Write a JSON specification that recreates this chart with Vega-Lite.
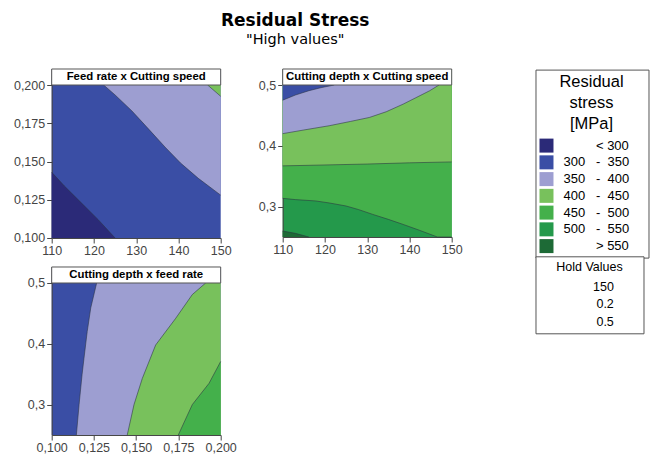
{
  "$schema": "https://vega.github.io/schema/vega-lite/v6.json",
  "background": "white",
  "padding": {"left": 12.7, "top": 12, "right": 4, "bottom": 4},
  "title": {
    "text": "Residual Stress",
    "subtitle": "\"High values\"",
    "font": "DejaVu Sans", "fontSize": 17, "fontWeight": "bold", "color": "#000",
    "subtitleFont": "DejaVu Sans", "subtitleFontSize": 14.5, "subtitleColor": "#000", "subtitlePadding": 3,
    "anchor": "middle", "dx": -36, "offset": 21
  },
  "datasets": {
    "p1": [
      {"k": "a", "band": "< 300", "x": 110, "y": 0.143},
      {"k": "a", "band": "< 300", "x": 113, "y": 0.134},
      {"k": "a", "band": "< 300", "x": 117, "y": 0.123},
      {"k": "a", "band": "< 300", "x": 121, "y": 0.112},
      {"k": "a", "band": "< 300", "x": 125, "y": 0.1},
      {"k": "b", "band": "350 - 400", "x": 122.3, "y": 0.2},
      {"k": "b", "band": "350 - 400", "x": 125, "y": 0.1935},
      {"k": "b", "band": "350 - 400", "x": 129, "y": 0.183},
      {"k": "b", "band": "350 - 400", "x": 133, "y": 0.171},
      {"k": "b", "band": "350 - 400", "x": 136.8, "y": 0.1595},
      {"k": "b", "band": "350 - 400", "x": 140.5, "y": 0.149},
      {"k": "b", "band": "350 - 400", "x": 144.7, "y": 0.139},
      {"k": "b", "band": "350 - 400", "x": 150, "y": 0.128},
      {"k": "c", "band": "400 - 450", "x": 146.9, "y": 0.2},
      {"k": "c", "band": "400 - 450", "x": 150, "y": 0.1926}
    ],
    "p2": [
      {"k": "a", "band": "450 - 500", "x": 110, "y": 0.3136},
      {"k": "a", "band": "450 - 500", "x": 113, "y": 0.3115},
      {"k": "a", "band": "450 - 500", "x": 117.8, "y": 0.3093},
      {"k": "a", "band": "450 - 500", "x": 121, "y": 0.306},
      {"k": "a", "band": "450 - 500", "x": 125, "y": 0.301},
      {"k": "a", "band": "450 - 500", "x": 128, "y": 0.295},
      {"k": "a", "band": "450 - 500", "x": 131.3, "y": 0.2872},
      {"k": "a", "band": "450 - 500", "x": 135, "y": 0.279},
      {"k": "a", "band": "450 - 500", "x": 138.5, "y": 0.2707},
      {"k": "a", "band": "450 - 500", "x": 142, "y": 0.262},
      {"k": "a", "band": "450 - 500", "x": 146, "y": 0.2516},
      {"k": "a", "band": "450 - 500", "x": 146.6, "y": 0.25},
      {"k": "a", "band": "450 - 500", "x": 150, "y": 0.25},
      {"k": "b", "band": "400 - 450", "x": 110, "y": 0.367},
      {"k": "b", "band": "400 - 450", "x": 120, "y": 0.3685},
      {"k": "b", "band": "400 - 450", "x": 130, "y": 0.37},
      {"k": "b", "band": "400 - 450", "x": 140, "y": 0.372},
      {"k": "b", "band": "400 - 450", "x": 150, "y": 0.3735},
      {"k": "c", "band": "350 - 400", "x": 110, "y": 0.42},
      {"k": "c", "band": "350 - 400", "x": 115, "y": 0.426},
      {"k": "c", "band": "350 - 400", "x": 121, "y": 0.433},
      {"k": "c", "band": "350 - 400", "x": 126, "y": 0.44},
      {"k": "c", "band": "350 - 400", "x": 130.5, "y": 0.4466},
      {"k": "c", "band": "350 - 400", "x": 134.5, "y": 0.456},
      {"k": "c", "band": "350 - 400", "x": 138.5, "y": 0.4685},
      {"k": "c", "band": "350 - 400", "x": 141.5, "y": 0.479},
      {"k": "c", "band": "350 - 400", "x": 144.8, "y": 0.4906},
      {"k": "c", "band": "350 - 400", "x": 147, "y": 0.5},
      {"k": "d", "band": "300 - 350", "x": 110, "y": 0.475},
      {"k": "d", "band": "300 - 350", "x": 113, "y": 0.4835},
      {"k": "d", "band": "300 - 350", "x": 116.2, "y": 0.4906},
      {"k": "d", "band": "300 - 350", "x": 119, "y": 0.4955},
      {"k": "d", "band": "300 - 350", "x": 122.2, "y": 0.5},
      {"k": "e", "band": "> 550", "x": 110, "y": 0.2598},
      {"k": "e", "band": "> 550", "x": 113, "y": 0.256},
      {"k": "e", "band": "> 550", "x": 116.2, "y": 0.25}
    ],
    "p3": [
      {"k": "a", "band": "350 - 400", "y": 0.25, "x": 0.1146},
      {"k": "a", "band": "350 - 400", "y": 0.3, "x": 0.1162},
      {"k": "a", "band": "350 - 400", "y": 0.35, "x": 0.118},
      {"k": "a", "band": "350 - 400", "y": 0.376, "x": 0.1191},
      {"k": "a", "band": "350 - 400", "y": 0.42, "x": 0.121},
      {"k": "a", "band": "350 - 400", "y": 0.459, "x": 0.1231},
      {"k": "a", "band": "350 - 400", "y": 0.5, "x": 0.1266},
      {"k": "b", "band": "400 - 450", "y": 0.25, "x": 0.1447},
      {"k": "b", "band": "400 - 450", "y": 0.3, "x": 0.1487},
      {"k": "b", "band": "400 - 450", "y": 0.343, "x": 0.1536},
      {"k": "b", "band": "400 - 450", "y": 0.398, "x": 0.1615},
      {"k": "b", "band": "400 - 450", "y": 0.442, "x": 0.1734},
      {"k": "b", "band": "400 - 450", "y": 0.481, "x": 0.1832},
      {"k": "b", "band": "400 - 450", "y": 0.5, "x": 0.1911},
      {"k": "c", "band": "450 - 500", "y": 0.25, "x": 0.1749},
      {"k": "c", "band": "450 - 500", "y": 0.3, "x": 0.1832},
      {"k": "c", "band": "450 - 500", "y": 0.335, "x": 0.1931},
      {"k": "c", "band": "450 - 500", "y": 0.371, "x": 0.2}
    ],
    "titles": [
      {"p": 1, "t": "Feed rate x Cutting speed"},
      {"p": 2, "t": "Cutting depth x Cutting speed"},
      {"p": 3, "t": "Cutting depth x feed rate"}
    ],
    "hold": [
      {"h": "150"},
      {"h": "0.2"},
      {"h": "0.5"}
    ]
  },
  "config": {
    "view": {"stroke": null},
    "axis": {
      "labelFont": "Liberation Sans", "labelFontSize": 12.5, "labelColor": "#444",
      "tickColor": "#444", "domainColor": "#444", "tickSize": 5, "labelPadding": 2,
      "labelFlush": false, "labelOverlap": false,
      "grid": false, "title": null
    },
    "legend": {
      "strokeColor": "#555", "fillColor": "white", "cornerRadius": 0,
      "titleFont": "Liberation Sans", "titleFontWeight": "normal", "titleColor": "#000",
      "labelFont": "Liberation Sans", "labelColor": "#000", "labelLimit": 300
    }
  },
  "columns": 2,
  "spacing": {"row": 29, "column": 62},
  "bounds": "flush",
  "concat": [
    {
      "width": 169, "height": 169,
      "view": {"fill": "#3a4ea5", "stroke": null},
      "layer": [
        {"data": {"name": "p1"}, "transform": [{"filter": "datum.k == 'a'"}], "mark": {"type": "area", "opacity": 1}, "encoding": {
          "x": {"field": "x", "type": "quantitative", "scale": {"domain": [110, 150], "nice": false, "zero": false}, "axis": {"values": [110, 120, 130, 140, 150], "format": "d"}},
          "y": {"field": "y", "type": "quantitative", "scale": {"domain": [0.1, 0.210458], "nice": false, "zero": false}, "axis": {"values": [0.1, 0.125, 0.15, 0.175, 0.2], "labelExpr": "replace(format(datum.value, '.3f'), '.', ',')"}},
          "y2": {"datum": 0.1}, "color": {"field": "band", "type": "nominal", "scale": {"domain": ["< 300", "300 - 350", "350 - 400", "400 - 450", "450 - 500", "500 - 550", "> 550"], "range": ["#2b2a78", "#3a4ea5", "#9d9ed1", "#78c15c", "#44b04b", "#24994b", "#1d6a36"]}, "legend": {"orient": "none", "legendX": 483.8, "legendY": 0.6, "title": ["Residual", "stress", "[MPa]"], "titleFontSize": 16.5, "titleLineHeight": 21, "titleAnchor": "middle", "titleAlign": "center", "titlePadding": 6.5, "labelFontSize": 13, "labelOffset": 10, "symbolType": "square", "symbolSize": 196, "symbolStrokeWidth": 0, "rowPadding": 2.75, "padding": 4, "labelExpr": "length(datum.label) < 6 ? '\u200b\u00a0\u00a0\u00a0\u00a0\u00a0\u00a0\u00a0\u00a0\u00a0' + substring(datum.label, 0, 1) + '\u00a0' + substring(datum.label, 2) + '\u00a0\u00a0\u00a0\u00a0\u200b' : substring(datum.label, 0, 3) + '\u00a0\u00a0\u00a0-\u00a0\u00a0' + substring(datum.label, 6) + '\u00a0\u00a0\u00a0\u00a0\u200b'"}}}},
        {"data": {"name": "p1"}, "transform": [{"filter": "datum.k == 'b'"}], "mark": {"type": "area", "opacity": 1}, "encoding": {"x": {"field": "x", "type": "quantitative"}, "y": {"field": "y", "type": "quantitative"}, "y2": {"datum": 0.2}, "color": {"field": "band", "type": "nominal"}}},
        {"data": {"name": "p1"}, "transform": [{"filter": "datum.k == 'c'"}], "mark": {"type": "area", "opacity": 1}, "encoding": {"x": {"field": "x", "type": "quantitative"}, "y": {"field": "y", "type": "quantitative"}, "y2": {"datum": 0.2}, "color": {"field": "band", "type": "nominal"}}},
        {"data": {"name": "p1"}, "mark": {"type": "line", "color": "#2a3340", "strokeWidth": 0.8, "opacity": 0.7}, "encoding": {"x": {"field": "x", "type": "quantitative"}, "y": {"field": "y", "type": "quantitative"}, "detail": {"field": "k"}}},
        {"data": {"name": "titles"}, "transform": [{"filter": "datum.p == 1"}], "mark": {"type": "rect", "fill": "white", "stroke": "#555", "strokeWidth": 1}, "encoding": {"x": {"datum": 110, "type": "quantitative"}, "x2": {"datum": 150}, "y": {"datum": 0.2, "type": "quantitative"}, "y2": {"datum": 0.210458}}},
        {"data": {"name": "titles"}, "transform": [{"filter": "datum.p == 1"}], "mark": {"type": "text", "font": "Liberation Sans", "fontWeight": "bold", "fontSize": 11.4, "baseline": "middle", "align": "center", "color": "#000"}, "encoding": {"x": {"datum": 130, "type": "quantitative"}, "y": {"datum": 0.205229, "type": "quantitative"}, "text": {"field": "t", "type": "nominal"}}}
      ]
    },
    {
      "width": 169, "height": 168,
      "view": {"fill": "#24994b", "stroke": null},
      "layer": [
        {"data": {"name": "p2"}, "transform": [{"filter": "datum.k == 'a'"}], "mark": {"type": "area", "opacity": 1}, "encoding": {
          "x": {"field": "x", "type": "quantitative", "scale": {"domain": [110, 150], "nice": false, "zero": false}, "axis": {"values": [110, 120, 130, 140, 150], "format": "d"}},
          "y": {"field": "y", "type": "quantitative", "scale": {"domain": [0.25, 0.526316], "nice": false, "zero": false}, "axis": {"values": [0.3, 0.4, 0.5], "labelExpr": "replace(format(datum.value, '.1f'), '.', ',')"}},
          "y2": {"datum": 0.5}, "color": {"field": "band", "type": "nominal"}}},
        {"data": {"name": "p2"}, "transform": [{"filter": "datum.k == 'b'"}], "mark": {"type": "area", "opacity": 1}, "encoding": {"x": {"field": "x", "type": "quantitative"}, "y": {"field": "y", "type": "quantitative"}, "y2": {"datum": 0.5}, "color": {"field": "band", "type": "nominal"}}},
        {"data": {"name": "p2"}, "transform": [{"filter": "datum.k == 'c'"}], "mark": {"type": "area", "opacity": 1}, "encoding": {"x": {"field": "x", "type": "quantitative"}, "y": {"field": "y", "type": "quantitative"}, "y2": {"datum": 0.5}, "color": {"field": "band", "type": "nominal"}}},
        {"data": {"name": "p2"}, "transform": [{"filter": "datum.k == 'd'"}], "mark": {"type": "area", "opacity": 1}, "encoding": {"x": {"field": "x", "type": "quantitative"}, "y": {"field": "y", "type": "quantitative"}, "y2": {"datum": 0.5}, "color": {"field": "band", "type": "nominal"}}},
        {"data": {"name": "p2"}, "transform": [{"filter": "datum.k == 'e'"}], "mark": {"type": "area", "opacity": 1}, "encoding": {"x": {"field": "x", "type": "quantitative"}, "y": {"field": "y", "type": "quantitative"}, "y2": {"datum": 0.25}, "color": {"field": "band", "type": "nominal"}}},
        {"data": {"name": "p2"}, "mark": {"type": "line", "color": "#2a3340", "strokeWidth": 0.8, "opacity": 0.7}, "encoding": {"x": {"field": "x", "type": "quantitative"}, "y": {"field": "y", "type": "quantitative"}, "detail": {"field": "k"}}},
        {"data": {"name": "titles"}, "transform": [{"filter": "datum.p == 2"}], "mark": {"type": "rect", "fill": "white", "stroke": "#555", "strokeWidth": 1}, "encoding": {"x": {"datum": 110, "type": "quantitative"}, "x2": {"datum": 150}, "y": {"datum": 0.5, "type": "quantitative"}, "y2": {"datum": 0.526316}}},
        {"data": {"name": "titles"}, "transform": [{"filter": "datum.p == 2"}], "mark": {"type": "text", "font": "Liberation Sans", "fontWeight": "bold", "fontSize": 11.4, "baseline": "middle", "align": "center", "color": "#000"}, "encoding": {"x": {"datum": 130, "type": "quantitative"}, "y": {"datum": 0.513158, "type": "quantitative"}, "text": {"field": "t", "type": "nominal"}}}
      ]
    },
    {
      "width": 169, "height": 168,
      "view": {"fill": "#3a4ea5", "stroke": null},
      "layer": [
        {"data": {"name": "p3"}, "transform": [{"filter": "datum.k == 'a'"}], "mark": {"type": "area", "orient": "horizontal", "opacity": 1}, "encoding": {
          "x": {"field": "x", "type": "quantitative", "scale": {"domain": [0.1, 0.2], "nice": false, "zero": false}, "axis": {"values": [0.1, 0.125, 0.15, 0.175, 0.2], "labelExpr": "replace(format(datum.value, '.3f'), '.', ',')"}},
          "y": {"field": "y", "type": "quantitative", "scale": {"domain": [0.25, 0.526316], "nice": false, "zero": false}, "axis": {"values": [0.3, 0.4, 0.5], "labelExpr": "replace(format(datum.value, '.1f'), '.', ',')"}},
          "x2": {"datum": 0.2}, "color": {"field": "band", "type": "nominal"}}},
        {"data": {"name": "p3"}, "transform": [{"filter": "datum.k == 'b'"}], "mark": {"type": "area", "orient": "horizontal", "opacity": 1}, "encoding": {"x": {"field": "x", "type": "quantitative"}, "y": {"field": "y", "type": "quantitative"}, "x2": {"datum": 0.2}, "color": {"field": "band", "type": "nominal"}}},
        {"data": {"name": "p3"}, "transform": [{"filter": "datum.k == 'c'"}], "mark": {"type": "area", "orient": "horizontal", "opacity": 1}, "encoding": {"x": {"field": "x", "type": "quantitative"}, "y": {"field": "y", "type": "quantitative"}, "x2": {"datum": 0.2}, "color": {"field": "band", "type": "nominal"}}},
        {"data": {"name": "p3"}, "mark": {"type": "line", "color": "#2a3340", "strokeWidth": 0.8, "opacity": 0.7}, "encoding": {"x": {"field": "x", "type": "quantitative"}, "y": {"field": "y", "type": "quantitative"}, "detail": {"field": "k"}, "order": {"field": "y", "type": "quantitative"}}},
        {"data": {"name": "titles"}, "transform": [{"filter": "datum.p == 3"}], "mark": {"type": "rect", "fill": "white", "stroke": "#555", "strokeWidth": 1}, "encoding": {"x": {"datum": 0.1, "type": "quantitative"}, "x2": {"datum": 0.2}, "y": {"datum": 0.5, "type": "quantitative"}, "y2": {"datum": 0.526316}}},
        {"data": {"name": "titles"}, "transform": [{"filter": "datum.p == 3"}], "mark": {"type": "text", "font": "Liberation Sans", "fontWeight": "bold", "fontSize": 11.4, "baseline": "middle", "align": "center", "color": "#000"}, "encoding": {"x": {"datum": 0.15, "type": "quantitative"}, "y": {"datum": 0.513158, "type": "quantitative"}, "text": {"field": "t", "type": "nominal"}}},
        {"data": {"name": "hold"}, "mark": {"type": "point", "opacity": 0}, "encoding": {"x": {"datum": 0.15, "type": "quantitative"}, "y": {"datum": 0.3, "type": "quantitative"}, "shape": {"field": "h", "type": "nominal", "scale": {"domain": ["150", "0.2", "0.5"]}, "legend": {"orient": "none", "legendX": 483.8, "legendY": 187.3, "title": "Hold Values", "titleFontSize": 12.5, "titleAnchor": "middle", "titleAlign": "center", "titlePadding": 5, "labelFontSize": 12.5, "labelOffset": 36.5, "symbolSize": 196, "symbolOpacity": 0, "symbolStrokeColor": "transparent", "symbolFillColor": "transparent", "rowPadding": 2.5, "padding": 5, "labelExpr": "(datum.label == '150' ? '' : '\u200b\u00a0') + datum.label + '\u00a0\u00a0\u00a0\u00a0\u00a0\u00a0\u00a0\u200b'"}}}}
      ]
    }
  ]
}
